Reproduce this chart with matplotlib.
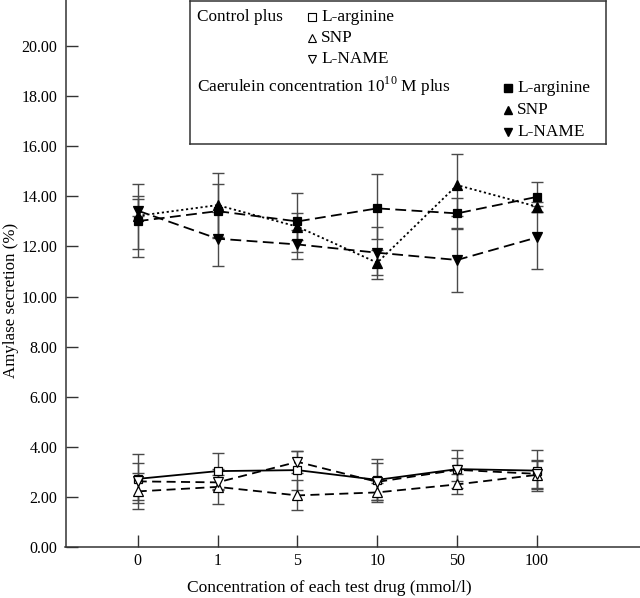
import numpy as np
import matplotlib
matplotlib.use("Agg")
import matplotlib.pyplot as plt

plt.rcParams['font.family'] = ['Liberation Serif', 'DejaVu Serif']
plt.rcParams['mathtext.fontset'] = 'custom'
plt.rcParams['mathtext.rm'] = 'Liberation Serif'

# categories on the x axis
conc = ['0', '1', '5', '10', '50', '100']

# control plus ...  (value, lower error, upper error)
ctl_larg = [2.72, 3.03, 3.07, 2.68, 3.11, 3.05]
ctl_larg_lo = [0.98, 0.73, 0.78, 0.82, 0.76, 0.82]
ctl_larg_hi = [0.98, 0.73, 0.78, 0.82, 0.76, 0.82]

ctl_snp = [2.22, 2.40, 2.06, 2.18, 2.50, 2.88]
ctl_snp_lo = [0.72, 0.70, 0.60, 0.37, 0.40, 0.55]
ctl_snp_hi = [0.72, 0.70, 0.60, 0.37, 0.40, 0.55]

ctl_lname = [2.62, 2.58, 3.40, 2.60, 3.08, 2.92]
ctl_lname_lo = [0.75, 0.30, 0.45, 0.74, 0.46, 0.55]
ctl_lname_hi = [0.72, 0.30, 0.45, 0.74, 0.46, 0.55]

# caerulein plus ...
cae_larg = [13.01, 13.41, 13.00, 13.52, 13.32, 13.98]
cae_larg_lo = [1.10, 1.07, 1.21, 1.24, 0.62, 0.60]
cae_larg_hi = [1.01, 1.07, 1.14, 1.36, 0.62, 0.60]

cae_snp = [13.22, 13.65, 12.79, 11.35, 14.45, 13.59]
cae_snp_lo = [0.0, 1.27, 0.53, 0.49, 1.24, 0.20]
cae_snp_hi = [0.66, 1.27, 0.53, 0.49, 1.24, 0.20]

cae_lname = [13.43, 12.31, 12.08, 11.75, 11.46, 12.36]
cae_lname_lo = [1.84, 1.08, 0.58, 1.05, 1.29, 1.26]
cae_lname_hi = [1.06, 1.08, 0.58, 1.01, 1.29, 1.26]

yticks = np.arange(0, 21, 2)

fig = plt.figure(figsize=(6.4, 5.98), dpi=100)
ax = fig.add_axes([65.5 / 640, 51 / 598, (640 - 65.5) / 640, 547 / 598])

x = np.arange(len(conc))
ecol = '#4a4a4a'

series = [
    (ctl_larg, ctl_larg_lo, ctl_larg_hi, 's', 'white', (0, ()), 5.5),
    (ctl_snp, ctl_snp_lo, ctl_snp_hi, '^', 'white', (0, (5, 3)), 6.5),
    (ctl_lname, ctl_lname_lo, ctl_lname_hi, 'v', 'white', (0, (5, 3)), 6.5),
    (cae_snp, cae_snp_lo, cae_snp_hi, '^', 'black', (0, (1.2, 1.5)), 6.5),
    (cae_larg, cae_larg_lo, cae_larg_hi, 's', 'black', (0, (6, 3)), 5.5),
    (cae_lname, cae_lname_lo, cae_lname_hi, 'v', 'black', (0, (6, 3)), 6.5),
]

for vals, lo, hi, mk, fc, ls, ms in series:
    ax.errorbar(x, vals, yerr=[lo, hi], fmt='none', ecolor=ecol,
                elinewidth=1.0, capsize=4.5, capthick=1.0, zorder=1)
for vals, lo, hi, mk, fc, ls, ms in series:
    ax.plot(x, vals, color='black', lw=1.3, linestyle=ls, marker=mk,
            markersize=ms, markerfacecolor=fc, markeredgecolor='black',
            markeredgewidth=0.9, zorder=3)

ax.set_xlim(-0.904, 6.29)
ax.set_ylim(0, 21.84)
ax.set_xticks(x)
ax.set_xticklabels(conc)
ax.set_yticks(yticks)
ax.set_yticklabels(['%.2f' % v for v in yticks])
ax.tick_params(direction='in', length=8.6, width=1.0, color='#333333',
               labelsize=11.5)
ax.tick_params(axis='y', pad=6)
ax.tick_params(axis='x', pad=4)
for s in ['top', 'right']:
    ax.spines[s].set_visible(False)
for s in ['left', 'bottom']:
    ax.spines[s].set_color('#333333')
    ax.spines[s].set_linewidth(1.1)

ax.set_xlabel('Concentration of each test drug (mmol/l)', fontsize=12.5, va='center')
ax.xaxis.set_label_coords((329.5 - 65.5) / 574.5, (546 - 587) / 547)
ax.set_ylabel('Amylase secretion (%)', fontsize=12.2, va='center')
ax.yaxis.set_label_coords((11 - 65.5) / 574.5, (547 - 300) / 547)

# legend box, drawn in pixel units of its own axes
lax = fig.add_axes([190 / 640, (598 - 144) / 598, (606 - 190) / 640, 143.5 / 598])
lax.set_xlim(190, 606)
lax.set_ylim(144, 0)
lax.set_xticks([])
lax.set_yticks([])
lax.set_facecolor('white')
for s in lax.spines.values():
    s.set_color('#333333')
    s.set_linewidth(1.1)

fs = 12.4
lax.text(197, 17, 'Control plus', fontsize=fs, va='center')
lax.text(197, 86, r'Caerulein concentration 10$^{10}$ M plus', fontsize=fs, va='center')
ctl_rows = [('s', 'L-arginine', 17), ('^', 'SNP', 38), ('v', 'L-NAME', 59)]
cae_rows = [('s', 'L-arginine', 88), ('^', 'SNP', 110), ('v', 'L-NAME', 132)]
for mk, lab, yy in ctl_rows:
    lax.plot([312], [yy], marker=mk, markersize=5.5, markerfacecolor='white',
             markeredgecolor='black', markeredgewidth=0.8)
    lax.text(321, yy, lab, fontsize=fs, va='center')
for mk, lab, yy in cae_rows:
    lax.plot([508], [yy], marker=mk, markersize=5.5, markerfacecolor='black',
             markeredgecolor='black')
    lax.text(517, yy, lab, fontsize=fs, va='center')

fig.savefig('out.png', dpi=100)
